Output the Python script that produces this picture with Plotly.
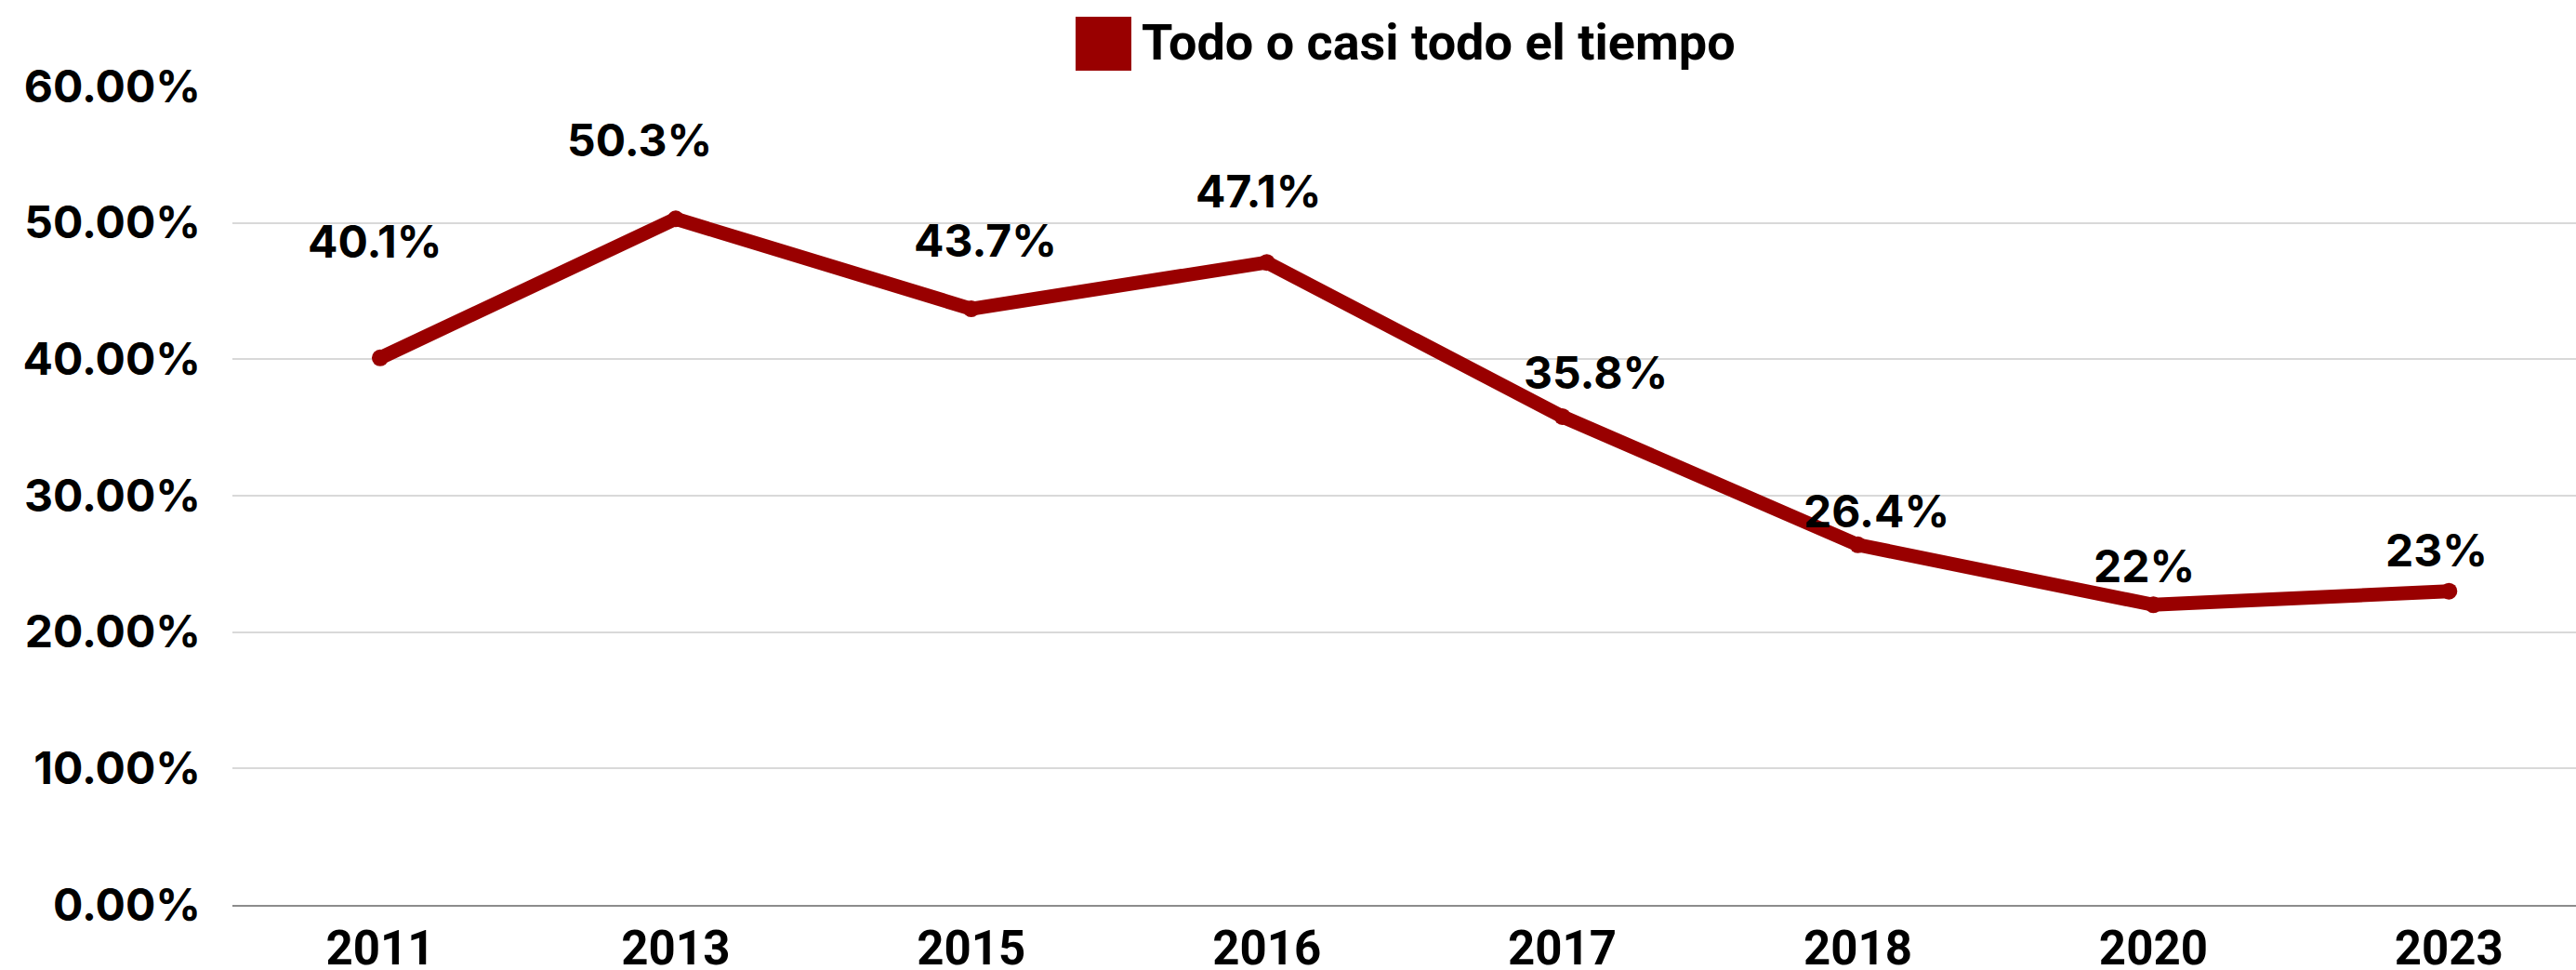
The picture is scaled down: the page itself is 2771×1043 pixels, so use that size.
import plotly.graph_objects as go

years = ["2011", "2013", "2015", "2016", "2017", "2018", "2020", "2023"]
values = [40.1, 50.3, 43.7, 47.1, 35.8, 26.4, 22, 23]
labels = ["40.1%", "50.3%", "43.7%", "47.1%", "35.8%", "26.4%", "22%", "23%"]
series_name = "Todo o casi todo el tiempo"
y_ticks = [0, 10, 20, 30, 40, 50, 60]
y_tick_text = ["0.00%", "10.00%", "20.00%", "30.00%", "40.00%", "50.00%", "60.00%"]

# label placement offsets (pixels) relative to each point
label_dx = [-5, -39, 15, -9, 36, 20, -10, -13]
label_dy = [125, 85, 74, 77, 47, 36, 42, 44]

RED = "#990000"
W, H = 2771, 1043
L, R, T, B = 250, 0, 93, 70

fig = go.Figure()
fig.add_trace(go.Scatter(
    x=years, y=values, mode="lines+markers",
    line=dict(color=RED, width=15),
    marker=dict(color=RED, size=18),
    name=series_name, showlegend=False, hoverinfo="skip",
))

for i, (yv, t, dx, dy) in enumerate(zip(values, labels, label_dx, label_dy)):
    fig.add_annotation(
        x=i, y=yv, text=t, showarrow=False,
        xshift=dx, yshift=dy, xanchor="center", yanchor="middle",
        font=dict(family="Inter", size=48, color="black", weight="bold"),
    )

# manual legend
pw = W - L - R
ph = H - T - B
def px_x(px):
    return (px - L) / pw
def px_y(py):
    return (H - B - py) / ph

fig.add_shape(type="rect", xref="paper", yref="paper",
              x0=px_x(1157), x1=px_x(1217), y0=px_y(76), y1=px_y(18),
              fillcolor=RED, line=dict(width=0))
fig.add_annotation(xref="paper", yref="paper", x=px_x(1226), y=px_y(46),
                   text=series_name, showarrow=False, xanchor="left", yanchor="middle",
                   font=dict(family="Roboto", size=54, color="black", weight="bold"))

fig.update_layout(
    width=W, height=H,
    margin=dict(l=L, r=R, t=T, b=B, pad=0),
    plot_bgcolor="white", paper_bgcolor="white",
    showlegend=False,
)
fig.update_xaxes(
    type="category", range=[-0.5, 7.43], automargin=False,
    showgrid=False, showline=True, linecolor="#8c8c8c", linewidth=2,
    ticks="", tickfont=dict(family="Roboto", size=51, color="black", weight="bold"),
    ticklabelstandoff=1,
)
fig.update_yaxes(
    range=[0, 60], tickvals=y_ticks, ticktext=y_tick_text, automargin=False,
    showgrid=True, gridcolor="#d9d9d9", gridwidth=2, zeroline=False,
    ticks="", tickfont=dict(family="Inter", size=48, color="black", weight="bold"),
    ticklabelstandoff=33,
)

fig.write_html("out.html", config={"displayModeBar": False},
               post_script="document.body.style.margin='0';document.body.style.overflow='hidden';")
